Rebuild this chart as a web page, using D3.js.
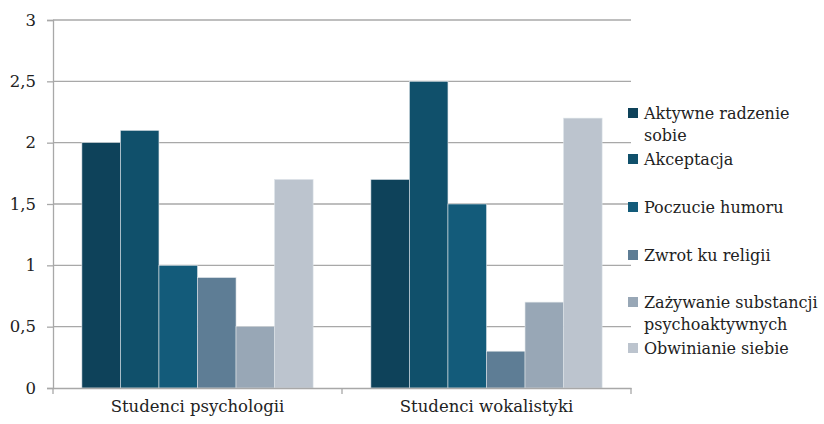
<!DOCTYPE html>
<html>
<head>
<meta charset="utf-8">
<script src="https://cdnjs.cloudflare.com/ajax/libs/d3/7.8.5/d3.min.js"></script>
<style>
  body { margin: 0; background: #fff; }
</style>
</head>
<body>
<script>
var categories = ["Studenci psychologii", "Studenci wokalistyki"];
var series = ["Aktywne radzenie sobie", "Akceptacja", "Poczucie humoru",
              "Zwrot ku religii", "Zażywanie substancji psychoaktywnych", "Obwinianie siebie"];
// values[i][j]: series i, category j
var values = [
  [2.0, 1.7],
  [2.1, 2.5],
  [1.0, 1.5],
  [0.9, 0.3],
  [0.5, 0.7],
  [1.7, 2.2]
];
var yTicks = [0, 0.5, 1, 1.5, 2, 2.5, 3];
var legendLines = [["Aktywne radzenie", "sobie"], ["Akceptacja"], ["Poczucie humoru"],
                   ["Zwrot ku religii"], ["Zażywanie substancji", "psychoaktywnych"], ["Obwinianie siebie"]];
var colors = ["#0e425a", "#10506b", "#135b7a", "#5e7d95", "#98a7b6", "#bcc4ce"];

var W = 824, H = 424;
var mLeft = 53, mRight = 631, mTop = 20, mBottom = 388;
var font = "DejaVu Serif";
var fontSize = 16.5;
var grey = "#a8a8a8";

var svg = d3.select("body").append("svg")
    .attr("width", W)
    .attr("height", H);

var x0 = d3.scaleBand().domain(categories).range([mLeft, mRight])
    .paddingInner(0.2).paddingOuter(0.1);
var x1 = d3.scaleBand().domain(d3.range(series.length)).range([0, x0.bandwidth()]);
var y = d3.scaleLinear().domain([0, 3]).range([mBottom, mTop]);

// gridlines
svg.append("g")
    .selectAll("line")
    .data(yTicks.filter(function(d) { return d > 0; }))
    .join("line")
    .attr("x1", mLeft).attr("x2", mRight)
    .attr("y1", function(d) { return y(d); })
    .attr("y2", function(d) { return y(d); })
    .attr("stroke", grey)
    .attr("stroke-width", 1.3);

// bars
var groups = svg.append("g")
    .selectAll("g")
    .data(categories)
    .join("g")
    .attr("transform", function(d) { return "translate(" + x0(d) + ",0)"; });

groups.selectAll("rect")
    .data(function(c, j) { return values.map(function(v, i) { return { i: i, v: v[j] }; }); })
    .join("rect")
    .attr("x", function(d) { return x1(d.i); })
    .attr("width", x1.bandwidth())
    .attr("y", function(d) { return y(d.v); })
    .attr("height", function(d) { return y(0) - y(d.v); })
    .attr("fill", function(d) { return colors[d.i]; })
    .attr("stroke", "#dde3e8")
    .attr("stroke-width", 0.6);

// y axis
var yAxis = d3.axisLeft(y).tickValues(yTicks).tickSize(6)
    .tickFormat(function(d) { return String(d).replace(".", ","); });
var ya = svg.append("g").attr("transform", "translate(" + mLeft + ",0)").call(yAxis);
ya.attr("font-family", font).attr("font-size", fontSize);
ya.select(".domain").attr("stroke", grey).attr("stroke-width", 1.3);
ya.selectAll(".tick line").attr("stroke", grey).attr("stroke-width", 1.3);
ya.selectAll(".tick text")
    .attr("x", -17)
    .attr("fill", "#222");

// x axis
var xAxis = d3.axisBottom(x0).tickSize(0).tickSizeOuter(0);
var xa = svg.append("g").attr("transform", "translate(0," + mBottom + ")").call(xAxis);
xa.attr("font-family", font).attr("font-size", fontSize);
xa.select(".domain").attr("stroke", grey).attr("stroke-width", 1.3);
xa.selectAll(".tick text")
    .attr("y", 24)
    .attr("dy", 0)
    .attr("fill", "#222");

// category separators below axis
var seps = [mLeft, mLeft + x0.step(), mRight];
svg.append("g").selectAll("line").data(seps).join("line")
    .attr("x1", function(d) { return d; }).attr("x2", function(d) { return d; })
    .attr("y1", mBottom).attr("y2", mBottom + 6)
    .attr("stroke", grey).attr("stroke-width", 1.3);

// legend
var legendY = [113, 159, 207, 255, 302, 348];
var legend = svg.append("g")
    .selectAll("g")
    .data(series)
    .join("g")
    .attr("transform", function(d, i) { return "translate(628," + legendY[i] + ")"; });

legend.append("rect")
    .attr("x", 0).attr("y", -5)
    .attr("width", 10).attr("height", 10)
    .attr("fill", function(d, i) { return colors[i]; });

legend.append("text")
    .attr("x", 16)
    .attr("y", 6)
    .attr("font-family", font)
    .attr("font-size", 16)
    .attr("fill", "#222")
    .selectAll("tspan")
    .data(function(d, i) { return legendLines[i]; })
    .join("tspan")
    .attr("x", 16)
    .attr("dy", function(d, k) { return k === 0 ? 0 : 22; })
    .text(function(d) { return d; });
</script>
</body>
</html>
